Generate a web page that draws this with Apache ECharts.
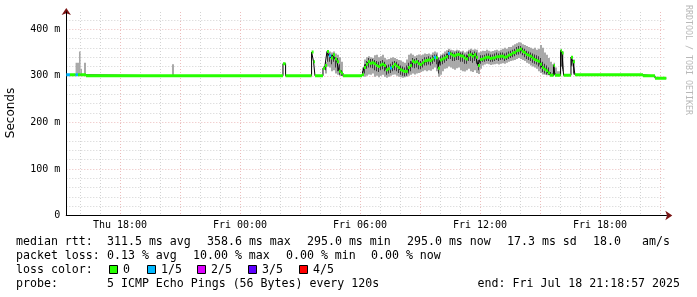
<!DOCTYPE html>
<html><head><meta charset="utf-8">
<script src="https://cdn.jsdelivr.net/npm/echarts@6/dist/echarts.min.js"></script>
<style>html,body{margin:0;padding:0;background:#fff}#c{width:697px;height:297px}</style>
</head><body><div id="c"></div>
<script>
// Hours since Thu 00:00
const startTime = 15.316;
const endTime = 45.316;
const times = [
  15.316, 15.5, 15.78, 15.9, 15.95, 16.03, 16.1, 16.2, 16.3, 20.6, 20.7, 26.15, 26.28, 27.58, 27.68, 27.75,
  28.15, 28.25, 28.35, 28.45, 28.55, 28.65, 28.75, 28.85, 28.95, 29.05, 29.15,
  30.1, 30.2, 30.3, 30.4, 30.5, 30.6, 30.7, 30.8, 30.9, 31.0,
  31.1, 31.2, 31.3, 31.4, 31.5, 31.6, 31.7, 31.8, 31.9, 32.0,
  32.1, 32.2, 32.3, 32.4, 32.5, 32.6, 32.7, 32.8, 32.9, 33.0,
  33.1, 33.2, 33.3, 33.4, 33.5, 33.6, 33.7, 33.8, 33.9, 34.0,
  34.1, 34.2, 34.3, 34.4, 34.5, 34.6, 34.7, 34.8, 34.9, 35.0,
  35.1, 35.2, 35.3, 35.4, 35.5, 35.6, 35.7, 35.8, 35.9, 36.0,
  36.1, 36.2, 36.3, 36.4, 36.5, 36.6, 36.7, 36.8, 36.9, 37.0,
  37.1, 37.2, 37.3, 37.4, 37.5, 37.6, 37.7, 37.8, 37.9, 38.0,
  38.1, 38.2, 38.3, 38.4, 38.5, 38.6, 38.7, 38.8, 38.9, 39.0,
  39.1, 39.2, 39.3, 39.4, 39.5, 39.6,
  39.68, 39.75, 39.85, 40.03, 40.1, 40.18, 40.55, 40.65, 40.75, 44.15, 44.75
];
// median rtt (ms)
const median = [
  302, 302, 302, 302, 302, 302, 302, 302, 300, 300, 300, 326, 300, 351, 330, 300,
  316, 322, 352, 343, 338, 345, 336, 330, 310, 306, 300,
  302, 318, 325, 330, 327, 328, 326, 322, 320, 323,
  325, 322, 313, 315, 317, 320, 324, 321, 318, 313,
  311, 309, 310, 318, 322, 331, 329, 330, 326, 324,
  328, 332, 333, 334, 333, 336, 340, 339, 316, 334,
  336, 338, 341, 348, 347, 344, 343, 345, 346, 343,
  342, 338, 336, 344, 345, 342, 345, 340, 322, 335,
  336, 338, 340, 340, 337, 338, 339, 341, 341, 342,
  342, 340, 341, 344, 346, 349, 350, 354, 355, 357,
  352, 350, 346, 344, 342, 338, 335, 333, 331, 325,
  318, 314, 311, 306, 301, 301,
  322, 301, 301, 354, 349, 301, 340, 330, 302, 300, 295
];
// smoke (full ping spread) lower / upper bound (ms)
const smokeLo = [
  302, 302, 301, 301, 301, 301, 302, 301, 300, 300, 300, 326, 300, 351, 330, 300,
  316, 305, 320, 318, 310, 312, 305, 302, 300, 300, 300,
  300, 298, 300, 303, 302, 305, 298, 300, 297, 300,
  302, 298, 296, 298, 300, 302, 303, 300, 298, 297,
  296, 297, 298, 300, 302, 305, 303, 305, 306, 308,
  310, 312, 310, 312, 311, 314, 318, 310, 298, 302,
  310, 315, 316, 320, 318, 315, 313, 316, 318, 312,
  310, 309, 312, 315, 310, 308, 312, 306, 304, 315,
  322, 324, 326, 325, 323, 324, 325, 326, 324, 326,
  327, 326, 328, 330, 332, 333, 334, 336, 338, 336,
  334, 332, 328, 326, 322, 320, 318, 315, 310, 306,
  303, 302, 301, 301, 300, 300,
  302, 300, 300, 320, 310, 301, 320, 302, 302, 300, 295
];
const smokeHi = [
  302, 302, 328, 328, 352, 315, 302, 328, 300, 325, 300, 326, 300, 351, 330, 300,
  316, 330, 355, 352, 350, 352, 348, 345, 340, 330, 300,
  318, 335, 340, 342, 340, 338, 344, 345, 340, 342,
  345, 338, 335, 336, 338, 340, 338, 336, 334, 333,
  330, 328, 335, 345, 348, 345, 342, 344, 346, 344,
  346, 348, 347, 348, 346, 350, 352, 350, 340, 345,
  348, 352, 355, 358, 356, 355, 354, 356, 355, 352,
  354, 350, 352, 356, 358, 356, 357, 356, 350, 352,
  354, 353, 356, 354, 352, 353, 355, 356, 354, 356,
  358, 360, 358, 362, 362, 365, 368, 370, 372, 371,
  368, 366, 364, 362, 360, 358, 360, 356, 358, 366,
  360, 350, 345, 338, 330, 325,
  328, 318, 310, 356, 352, 301, 342, 335, 302, 300, 295
];
// dense inner smoke (middle pings) lower / upper bound (ms)
const darkLo = [
  302, 302, 302, 302, 302, 302, 302, 302, 300, 300, 300, 326, 300, 351, 330, 300,
  316, 312, 330, 330, 325, 330, 318, 310, 302, 300, 300,
  300, 305, 315, 318, 318, 316, 312, 310, 308, 312,
  314, 310, 302, 305, 306, 310, 312, 310, 306, 302,
  300, 299, 300, 305, 310, 318, 316, 318, 314, 314,
  318, 322, 322, 324, 322, 326, 330, 325, 305, 322,
  325, 328, 332, 336, 336, 332, 332, 334, 334, 330,
  330, 326, 326, 332, 332, 328, 332, 326, 312, 326,
  330, 330, 332, 332, 330, 330, 332, 334, 332, 334,
  335, 332, 334, 336, 338, 340, 342, 345, 346, 348,
  344, 340, 336, 334, 332, 328, 326, 324, 320, 315,
  308, 305, 303, 302, 300, 300,
  305, 300, 300, 320, 315, 301, 322, 305, 302, 300, 295
];
const darkHi = [
  302, 302, 302, 302, 302, 302, 302, 302, 300, 300, 300, 326, 300, 351, 330, 300,
  316, 326, 352, 348, 345, 348, 340, 338, 325, 312, 300,
  310, 325, 332, 338, 336, 336, 334, 332, 330, 332,
  334, 330, 322, 324, 326, 330, 332, 330, 326, 322,
  320, 318, 322, 328, 332, 338, 336, 338, 334, 332,
  336, 340, 340, 342, 340, 344, 346, 346, 330, 342,
  344, 346, 348, 354, 352, 350, 350, 352, 352, 350,
  350, 346, 346, 352, 354, 350, 352, 350, 334, 344,
  344, 345, 348, 348, 346, 346, 348, 350, 348, 350,
  350, 348, 350, 352, 354, 356, 358, 362, 364, 364,
  360, 358, 354, 352, 350, 348, 346, 344, 342, 338,
  330, 326, 322, 318, 308, 305,
  325, 305, 302, 356, 352, 301, 342, 334, 302, 300, 295
];
// lost pings out of 5 per sample
const lossIdx = [
  1, 0, 1, 0, 0, 0, 0, 0, 0, 0, 0, 0, 0, 0, 0, 0,
  0, 0, 0, 1, 0, 0, 0, 0, 0, 0, 0,
  0, 0, 0, 0, 0, 0, 0, 0, 0, 0,
  0, 0, 0, 0, 1, 0, 0, 0, 0, 0,
  0, 0, 0, 0, 0, 0, 0, 0, 0, 0,
  0, 0, 0, 0, 0, 0, 1, 0, 0, 0,
  0, 0, 0, 1, 0, 0, 0, 0, 0, 0,
  0, 0, 0, 0, 0, 0, 0, 0, 0, 0,
  0, 0, 0, 0, 0, 0, 0, 0, 0, 0,
  0, 0, 0, 0, 0, 0, 0, 0, 0, 0,
  0, 0, 0, 0, 0, 0, 0, 0, 0, 0,
  0, 0, 0, 0, 0, 0,
  0, 0, 0, 0, 0, 0, 0, 0, 0, 0, 0
];
const lossColors = ['#26ff00', '#00b8ff', '#dd00ff', '#5e00ff', '#ff0000'];
const lossLabels = ['0', '1/5', '2/5', '3/5', '4/5'];

const xLabelHours = [18, 24, 30, 36, 42];
const xMajorHours = [18, 21, 24, 27, 30, 33, 36, 39, 42, 45];
const xMinorHours = [16,17,18,19,20,21,22,23,24,25,26,27,28,29,30,31,32,33,34,35,36,37,38,39,40,41,42,43,44,45];
const yLabelValues = [0, 100, 200, 300, 400];
const yMajorValues = [100, 200, 300, 400];
const yMinorValues = [20,40,60,80,120,140,160,180,220,240,260,280,320,340,360,380,420];
const yMax = 437;

const legendRow1 = [['median rtt:', 16], ['311.5 ms avg', 107], ['358.6 ms max', 207], ['295.0 ms min', 307], ['295.0 ms now', 407], ['17.3 ms sd', 507], ['18.0', 593], ['am/s', 642]];
const legendRow2 = [['packet loss:', 16], ['0.13 % avg', 107], ['10.00 % max', 193], ['0.00 % min', 286], ['0.00 % now', 371]];
const legendBoxX = [109, 147, 197, 248, 299];
const probeText = '5 ICMP Echo Pings (56 Bytes) every 120s';
const endText = 'end: Fri Jul 18 21:18:57 2025';

const MONO = '"DejaVu Sans Mono", monospace';
const N = times.length;
const nextT = i => (i < N - 1 ? times[i + 1] : endTime);
const smokeData = [];
const darkData = [];
for (let i = 0; i < N; i++) {
  if (smokeHi[i] > smokeLo[i]) smokeData.push([times[i], nextT(i), smokeLo[i], smokeHi[i]]);
  if (darkHi[i] > darkLo[i]) darkData.push([times[i], nextT(i), darkLo[i], darkHi[i]]);
}
const bandData = times.map((t, i) => [t, nextT(i), median[i], lossIdx[i]]);
const linePts = times.map((t, i) => [t, median[i]]).concat([[endTime, median[N - 1]]]);

function hourLabel(v) {
  const day = v < 24 ? 'Thu' : 'Fri';
  const h = Math.round(v) % 24;
  return day + ' ' + (h < 10 ? '0' : '') + h + ':00';
}

const graphics = [];
function txt(s, x, y) {
  graphics.push({type: 'text', x: x, y: y, style: {text: s, font: '11.6px ' + MONO, fill: '#000', textVerticalAlign: 'middle'}});
}
legendRow1.forEach(p => txt(p[0], p[1], 241.5));
legendRow2.forEach(p => txt(p[0], p[1], 255.5));
txt('loss color:', 16, 269.5);
lossLabels.forEach((l, i) => {
  graphics.push({type: 'rect', shape: {x: legendBoxX[i] + 0.5, y: 265.5, width: 8, height: 8}, style: {fill: lossColors[i], stroke: '#000', lineWidth: 1}});
  txt(l, legendBoxX[i] + 14, 269.5);
});
txt('probe:', 16, 283.5);
txt(probeText, 107, 283.5);
graphics.push({type: 'text', x: 680, y: 283.5, style: {text: endText, font: '11.6px ' + MONO, fill: '#000', textAlign: 'right', textVerticalAlign: 'middle'}});
graphics.push({type: 'text', x: 11, y: 113, rotation: Math.PI / 2, style: {text: 'Seconds', font: '12px "DejaVu Sans", sans-serif', fill: '#000', textAlign: 'center', textVerticalAlign: 'middle'}});
graphics.push({type: 'text', x: 688, y: 60, rotation: -Math.PI / 2, style: {text: 'RRDTOOL / TOBI OETIKER', font: '8.3px ' + MONO, fill: '#b8b8b8', textAlign: 'center', textVerticalAlign: 'middle'}});

function rangeRect(color, fullWidth) {
  return function (params, api) {
    const p0 = api.coord([api.value(0), api.value(3)]);
    const p1 = api.coord([api.value(1), api.value(2)]);
    const w = fullWidth ? Math.max(1, p1[0] - p0[0]) : 1;
    return {type: 'rect', shape: {x: p0[0], y: p0[1], width: w, height: Math.max(1, p1[1] - p0[1])}, style: {fill: color}};
  };
}

const ARROW = '#7a1414';
const MAJOR = '#ecbcbc';
const MINOR = '#d2d2d2';
const chart = echarts.init(document.getElementById('c'), null, {renderer: 'canvas', width: 697, height: 297});
chart.setOption({
  animation: false,
  backgroundColor: '#fff',
  grid: {left: 66.3, right: 30.7, top: 12, bottom: 81.5, containLabel: false},
  xAxis: [
    {type: 'value', min: startTime, max: endTime, position: 'bottom', z: 1,
      axisLine: {show: true, onZero: false, lineStyle: {color: '#000', width: 1}},
      axisTick: {show: false, customValues: xMajorHours},
      axisLabel: {show: true, customValues: xLabelHours, formatter: hourLabel, margin: 5, fontFamily: MONO, fontSize: 10, color: '#000'},
      splitLine: {show: true, lineStyle: {color: MAJOR, type: [1, 2], width: 1}}
    },
    {type: 'value', min: startTime, max: endTime, position: 'bottom', z: 0,
      axisLine: {show: true, onZero: false, lineStyle: {color: ARROW, width: 1}, symbol: ['none', 'arrow'], symbolSize: [7, 7], symbolOffset: [0, 6]},
      axisTick: {show: false, customValues: xMinorHours}, axisLabel: {show: false},
      splitLine: {show: true, lineStyle: {color: MINOR, type: [1, 2], width: 1}}
    }
  ],
  yAxis: [
    {type: 'value', min: 0, max: yMax, position: 'left', z: 1,
      axisLine: {show: true, onZero: false, lineStyle: {color: '#000', width: 1}},
      axisTick: {show: false, customValues: yMajorValues},
      axisLabel: {show: true, customValues: yLabelValues, formatter: v => v === 0 ? '0' : v + ' m', margin: 6, fontFamily: MONO, fontSize: 10, color: '#000'},
      splitLine: {show: true, lineStyle: {color: MAJOR, type: [1, 2], width: 1}}
    },
    {type: 'value', min: 0, max: yMax, position: 'left', z: 0,
      axisLine: {show: true, onZero: false, lineStyle: {color: ARROW, width: 1}, symbol: ['none', 'arrow'], symbolSize: [7, 7], symbolOffset: [0, 4]},
      axisTick: {show: false, customValues: yMinorValues}, axisLabel: {show: false},
      splitLine: {show: true, lineStyle: {color: MINOR, type: [1, 2], width: 1}}
    }
  ],
  series: [
    {type: 'custom', name: 'smoke', xAxisIndex: 0, yAxisIndex: 0, clip: true, z: 2,
      encode: {x: [0, 1], y: [2, 3]}, data: smokeData, renderItem: rangeRect('#a8a8a8', true)},
    {type: 'custom', name: 'smokeDense', xAxisIndex: 0, yAxisIndex: 0, clip: true, z: 2,
      encode: {x: [0, 1], y: [2, 3]}, data: darkData, renderItem: rangeRect('#3a3a3a', false)},
    {type: 'line', name: 'median', xAxisIndex: 0, yAxisIndex: 0, data: linePts, step: 'end', showSymbol: false, symbol: 'none', z: 3,
      lineStyle: {color: '#000', width: 1}},
    {type: 'custom', name: 'loss', xAxisIndex: 0, yAxisIndex: 0, clip: true, z: 4,
      encode: {x: [0, 1], y: 2},
      data: bandData,
      renderItem: function (params, api) {
        const p0 = api.coord([api.value(0), api.value(2)]);
        const p1 = api.coord([api.value(1), api.value(2)]);
        return {type: 'rect', shape: {x: p0[0], y: p0[1] - 1.5, width: p1[0] - p0[0], height: 3}, style: {fill: lossColors[api.value(3)]}};
      }
    }
  ],
  graphic: graphics
});
</script>
</body></html>
